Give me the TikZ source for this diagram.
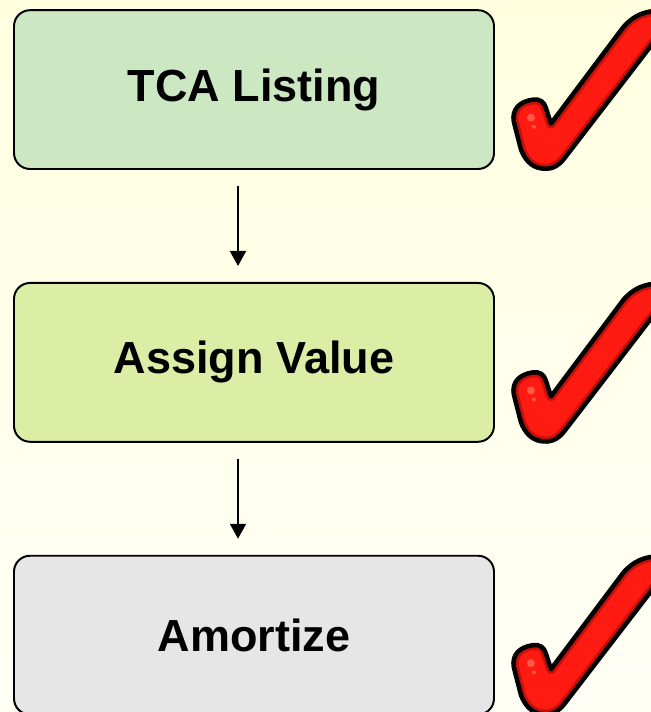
\documentclass[tikz,border=0pt]{standalone}
\usepackage{fontspec}
\setmainfont{Liberation Sans}
\usepackage{tikz}
\usetikzlibrary{arrows.meta,positioning}
\usepackage{xcolor}
\definecolor{bgtop}{HTML}{FFFFE0}
\definecolor{bgbot}{HTML}{FFFFF6}
\definecolor{tcagreen}{HTML}{CCE8C2}
\definecolor{assigngreen}{HTML}{DCEEA6}
\definecolor{amortgray}{HTML}{E6E6E6}
\definecolor{chkred}{HTML}{FF1A12}
\definecolor{chkdark}{HTML}{C80F08}
\definecolor{chklight}{HTML}{FF5A48}
\def\chk{(1.4,-0.85) -- (3.2,1.55) .. controls (3.45,1.85) and (3.75,1.97) .. (4.1,1.97)
  .. controls (4.4,1.97) and (4.45,1.75) .. (4.25,1.55) -- (1.75,-1.7)
  .. controls (1.55,-1.97) and (1.35,-2.0) .. (1.15,-1.97)
  .. controls (0.9,-1.93) and (0.75,-1.75) .. (0.65,-1.5) -- (0.47,-0.8)
  .. controls (0.42,-0.5) and (0.6,-0.3) .. (0.95,-0.25)
  .. controls (1.12,-0.23) and (1.22,-0.3) .. (1.27,-0.45) -- cycle}

\begin{document}
\begin{tikzpicture}[>={Triangle[length=3.75mm,width=4mm]},line join=round,
  node distance=2.8cm,
  box/.style={draw,line width=1.4pt,rounded corners=0.4cm,minimum width=12cm,
    minimum height=3.97cm,font=\fontsize{32}{38}\bfseries\selectfont},
  flow/.style={->,line width=1.4pt,shorten <=0.4cm,shorten >=0.4cm},
  check/.pic={
    \fill[chkred] \chk;
    \begin{scope}
    \clip \chk;
    \draw[chkdark,line width=7pt] \chk;
    \end{scope}
    \draw[black,line width=3.2pt] \chk;
    \fill[chklight] (0.9,-0.7) circle (0.1);
    \fill[chklight] (0.975,-0.93) circle (0.05);
  }]
\useasboundingbox (0,0) rectangle (16.275,17.8);
\fill[top color=bgtop,bottom color=bgbot] (0,0) rectangle (16.275,17.8);
\node[box,fill=tcagreen] (tca) at (6.35,15.56) {TCA Listing};
\node[box,fill=assigngreen,below=of tca] (assign) {Assign Value};
\node[box,fill=amortgray,below=of assign] (amort) {Amortize};
\draw[flow] ([xshift=-0.4cm]tca.south) -- ([xshift=-0.4cm]assign.north);
\draw[flow] ([xshift=-0.4cm]assign.south) -- ([xshift=-0.4cm]amort.north);
\pic at (tca.east) {check};
\pic at (assign.east) {check};
\pic at (amort.east) {check};
\end{tikzpicture}
\end{document}
